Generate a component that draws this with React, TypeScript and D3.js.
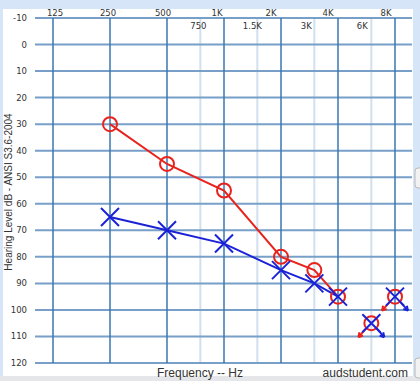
import React from "react";
import * as d3 from "d3";

const majorFreqs = [125, 250, 500, 1000, 2000, 4000, 8000];
const majorLabels = ["125", "250", "500", "1K", "2K", "4K", "8K"];
const minorFreqs = [750, 1500, 3000, 6000];
const minorLabels = ["750", "1.5K", "3K", "6K"];
const dbTicks = [-10, 0, 10, 20, 30, 40, 50, 60, 70, 80, 90, 100, 110, 120];

const rightFreqs = [250, 500, 1000, 2000, 3000, 4000];
const rightDb = [30, 45, 55, 80, 85, 95];
const leftFreqs = [250, 500, 1000, 2000, 3000, 4000];
const leftDb = [65, 70, 75, 85, 90, 95];
const nrFreqs = [6000, 8000];
const nrRightDb = [105, 95];
const nrLeftDb = [105, 95];

const majorDx = [2, -2, -4, -7, -10, -10, -9];
const minorDx = [-2, -5, -8, -9];

export default function App() {
  const W = 420, H = 381;
  const x = d3.scaleLog().domain([125, 8000]).range([53, 395]);
  const y = d3.scaleLinear().domain([-10, 120]).range([18, 363]);
  const gridLeft = 35, gridRight = 412;
  const red = "#e8231c";
  const blue = "#1b22d6";
  const line = d3.line<[number, number]>().x(d => x(d[0])).y(d => y(d[1]));
  const rightPts = rightFreqs.map((f, i) => [f, rightDb[i]] as [number, number]);
  const leftPts = leftFreqs.map((f, i) => [f, leftDb[i]] as [number, number]);
  const r = 7, xs = 9;

  const arrow = (cx: number, cy: number, dirX: number, color: string, key: string) => {
    const x1 = cx + dirX * 5, y1 = cy + 5;
    const x2 = cx + dirX * 13, y2 = cy + 14;
    const ang = Math.atan2(y2 - y1, x2 - x1);
    const hl = 5;
    const a1 = ang + Math.PI - 0.5, a2 = ang + Math.PI + 0.5;
    return (
      <g key={key}>
        <line x1={x1} y1={y1} x2={x2} y2={y2} stroke={color} strokeWidth={2} />
        <path d={`M${x2},${y2} L${x2 + hl * Math.cos(a1)},${y2 + hl * Math.sin(a1)} M${x2},${y2} L${x2 + hl * Math.cos(a2)},${y2 + hl * Math.sin(a2)}`} stroke={color} strokeWidth={2} fill="none" />
      </g>
    );
  };

  const cross = (cx: number, cy: number, key: string) => (
    <path key={key} d={`M${cx - xs},${cy - xs} L${cx + xs},${cy + xs} M${cx - xs},${cy + xs} L${cx + xs},${cy - xs}`} stroke={blue} strokeWidth={2} fill="none" />
  );

  return (
    <svg width={W} height={H} style={{ position: "absolute", left: 0, top: 0 }}>
      <rect x={0} y={0} width={W} height={H} fill="#d6e5f8" />
      <rect x={3} y={9} width={410} height={367} fill="#ffffff" />
      <rect x={0} y={376} width={W} height={5} fill="#e4e6ea" />
      <rect x={415} y={168} width={8} height={20} rx={3} fill="#f2f2f2" stroke="#b9b9b9" />
      <rect x={415} y={358} width={8} height={20} rx={3} fill="#f2f2f2" stroke="#b9b9b9" />

      {minorFreqs.map((f, i) => (
        <line key={"mv" + i} x1={x(f)} x2={x(f)} y1={y(-10)} y2={y(120)} stroke="#d2e0ee" strokeWidth={2} />
      ))}
      {dbTicks.map((d, i) => (
        <line key={"h" + i} x1={gridLeft} x2={gridRight} y1={y(d)} y2={y(d)} stroke="#779fc8" strokeWidth={2} />
      ))}
      {majorFreqs.map((f, i) => (
        <line key={"v" + i} x1={x(f)} x2={x(f)} y1={y(-10)} y2={y(120)} stroke="#3a77b2" strokeWidth={1.5} />
      ))}

      {dbTicks.map((d, i) => (
        <text key={"yl" + i} x={27} y={y(d)} dy="0.35em" textAnchor="end" fontFamily="DejaVu Sans" fontSize={8.5} fill="#333">{d}</text>
      ))}
      {majorFreqs.map((f, i) => (
        <text key={"tl" + i} x={x(f) + majorDx[i]} y={15.5} textAnchor="middle" fontFamily="DejaVu Sans" fontSize={8.5} fill="#333">{majorLabels[i]}</text>
      ))}
      {minorFreqs.map((f, i) => (
        <text key={"ml" + i} x={x(f) + minorDx[i]} y={28.5} textAnchor="middle" fontFamily="DejaVu Sans" fontSize={8.5} fill="#333">{minorLabels[i]}</text>
      ))}

      <text transform={`translate(12,192) rotate(-90)`} textAnchor="middle" fontFamily="Liberation Sans" fontSize={10} fill="#333">Hearing Level dB - ANSI S3.6-2004</text>
      <text x={200} y={377} textAnchor="middle" fontFamily="Liberation Sans" fontSize={12} fill="#333">Frequency -- Hz</text>
      <text x={408} y={377} textAnchor="end" fontFamily="Liberation Sans" fontSize={12} fill="#333">audstudent.com</text>

      <path d={line(rightPts) || ""} stroke={red} strokeWidth={2} fill="none" />
      <path d={line(leftPts) || ""} stroke={blue} strokeWidth={2} fill="none" />

      {rightPts.map((p, i) => (
        <circle key={"rc" + i} cx={x(p[0])} cy={y(p[1])} r={r} fill="none" stroke={red} strokeWidth={2} />
      ))}
      {leftPts.map((p, i) => cross(x(p[0]), y(p[1]), "lc" + i))}

      {nrFreqs.map((f, i) => (
        <g key={"nr" + i}>
          {arrow(x(f), y(nrRightDb[i]), -1, red, "ra" + i)}
          {arrow(x(f), y(nrLeftDb[i]), 1, blue, "la" + i)}
          <circle cx={x(f)} cy={y(nrRightDb[i])} r={r} fill="none" stroke={red} strokeWidth={2} />
          {cross(x(f), y(nrLeftDb[i]), "nrc" + i)}
        </g>
      ))}
    </svg>
  );
}
